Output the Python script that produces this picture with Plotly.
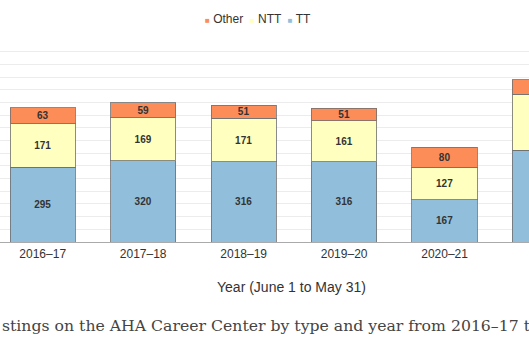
import plotly.graph_objects as go

years = ["2016–17", "2017–18", "2018–19", "2019–20", "2020–21", "2021–22"]
tt = [295, 320, 316, 316, 167, 361]
ntt = [171, 169, 171, 161, 127, 221]
other = [63, 59, 51, 51, 80, 57]
# the last bar is cut off at the right edge; its labels are not visible
visible_labels = [True, True, True, True, True, False]

colors = {"TT": "#91bfdb", "NTT": "#ffffbf", "Other": "#fc8d59"}
sans = "Liberation Sans, Arial, sans-serif"
label_font = dict(family=sans, size=10, color="#333333")

W, H, T, B = 529, 353, 39, 111
plot_h = H - T - B


def py(ypix):
    return (H - B - ypix) / plot_h


fig = go.Figure()
for name, vals in [("TT", tt), ("NTT", ntt), ("Other", other)]:
    fig.add_trace(go.Bar(
        x=years, y=vals, name=name,
        marker=dict(color=colors[name], line=dict(color="rgba(110,110,110,0.8)", width=1)),
        text=[f"<b>{v}</b>" if s else "" for v, s in zip(vals, visible_labels)],
        textposition="inside", insidetextanchor="middle", textangle=0,
        textfont=label_font, showlegend=False,
    ))

fig.update_layout(
    barmode="stack", bargap=0.35,
    width=W, height=H,
    margin=dict(l=0, r=0, t=T, b=B),
    paper_bgcolor="white", plot_bgcolor="white",
    uniformtext=dict(mode="show", minsize=10),
    xaxis=dict(
        range=[-0.425, 4.84], showline=True, linecolor="#aaaaaa", linewidth=1,
        ticks="", ticklabelstandoff=1,
        tickfont=dict(family=sans, size=12, color="#333333"),
    ),
    yaxis=dict(
        range=[0, 800], dtick=50, showticklabels=False, gridcolor="#ececec",
        gridwidth=1, zeroline=False,
    ),
)

legend_text = (
    '<span style="color:#fc8d59;font-size:8px">■</span> Other  '
    '<span style="color:#ffffbf;font-size:8px">■</span> NTT  '
    '<span style="color:#91bfdb;font-size:8px">■</span> TT'
)
fig.add_annotation(
    text=legend_text, xref="paper", yref="paper",
    x=258 / W, y=py(19), showarrow=False, xanchor="center", yanchor="middle",
    font=dict(family=sans, size=12, color="#333333"),
)
fig.add_annotation(
    text="Year (June 1 to May 31)", xref="paper", yref="paper",
    x=291 / W, y=py(287), showarrow=False, xanchor="center", yanchor="middle",
    font=dict(family=sans, size=14, color="#333333"),
)
fig.add_annotation(
    text="stings on the AHA Career Center by type and year from 2016–17 t",
    xref="paper", yref="paper", x=0, y=py(325), showarrow=False,
    xanchor="left", yanchor="middle",
    font=dict(family="DejaVu Serif, serif", size=15.7, color="#444444"),
)

fig.write_html("out.html")
